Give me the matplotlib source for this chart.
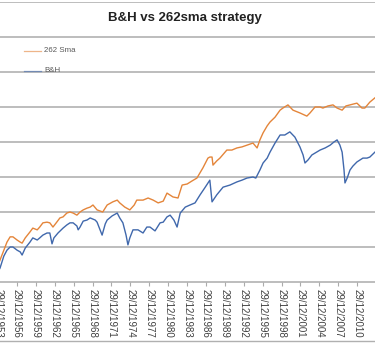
import matplotlib.pyplot as plt
from matplotlib.lines import Line2D

plt.rcParams['font.family'] = ['Liberation Sans', 'DejaVu Sans']

# B&H curve (decimal year, chart units - one unit per gridline)
bh_year = [1953.7, 1954.3, 1954.9, 1955.4, 1955.9, 1956.35, 1957.0, 1957.5, 1957.8, 1958.3,
           1959.05, 1959.5, 1960.2, 1960.6, 1961.1, 1961.75, 1962.2, 1962.55, 1962.85, 1963.5,
           1964.3, 1964.9, 1965.4, 1965.9, 1966.5, 1966.7, 1967.0, 1967.5, 1968.1, 1968.6,
           1969.4, 1969.7, 1970.5, 1971.0, 1971.3, 1972.1, 1972.9, 1973.3, 1973.8, 1974.3,
           1974.6, 1974.9, 1975.4, 1976.2, 1977.0, 1977.6, 1978.1, 1978.9, 1979.7, 1980.2,
           1980.8, 1981.3, 1981.9, 1982.4, 1982.9, 1983.7, 1984.45, 1985.25, 1986.05, 1986.8,
           1987.6, 1987.95, 1988.7, 1989.7, 1990.8, 1991.9, 1992.7, 1993.5, 1994.45, 1994.9,
           1995.55, 1996.05, 1996.7, 1997.15, 1997.95, 1998.75, 1999.5, 2000.3, 2001.1, 2001.9,
           2002.4, 2002.7, 2003.2, 2003.8, 2005.1, 2005.9, 2006.7, 2007.3, 2007.8, 2008.25,
           2008.6, 2008.9, 2009.05, 2009.4, 2009.85, 2010.3, 2010.95, 2011.9, 2012.55, 2013.0,
           2013.8]
bh_val = [0.20, 0.40, 0.74, 0.91, 1.00, 1.00, 0.91, 0.86, 0.77, 0.97,
          1.14, 1.26, 1.20, 1.26, 1.34, 1.40, 1.40, 1.09, 1.26, 1.40,
          1.54, 1.63, 1.69, 1.69, 1.60, 1.49, 1.57, 1.74, 1.77, 1.83,
          1.77, 1.71, 1.34, 1.66, 1.77, 1.89, 1.97, 1.83, 1.69, 1.34,
          1.06, 1.26, 1.49, 1.49, 1.40, 1.57, 1.57, 1.46, 1.69, 1.71,
          1.86, 1.91, 1.77, 1.57, 1.97, 2.14, 2.20, 2.26, 2.49, 2.69,
          2.91, 2.29, 2.49, 2.71, 2.77, 2.86, 2.91, 2.97, 3.00, 2.97,
          3.20, 3.40, 3.54, 3.71, 3.97, 4.20, 4.20, 4.29, 4.14, 3.86,
          3.63, 3.40, 3.49, 3.63, 3.77, 3.83, 3.91, 4.00, 4.06, 3.91,
          3.71, 3.20, 2.83, 2.97, 3.20, 3.31, 3.43, 3.54, 3.54, 3.57,
          3.71]

# 262 day SMA strategy curve
sma_year = [1953.7, 1954.3, 1954.8, 1955.4, 1955.9, 1956.35, 1957.0, 1957.5, 1957.8, 1958.3,
            1959.05, 1959.5, 1960.2, 1960.6, 1961.1, 1961.75, 1962.2, 1962.7, 1963.3, 1963.8,
            1964.3, 1964.9, 1965.4, 1965.9, 1966.5, 1967.0, 1967.5, 1968.1, 1968.6, 1969.05,
            1969.7, 1970.6, 1971.3, 1972.2, 1972.9, 1973.3, 1974.1, 1974.6, 1974.9, 1975.6,
            1976.0, 1977.0, 1977.8, 1978.6, 1979.4, 1980.2, 1980.8, 1981.75, 1982.55, 1983.2,
            1984.0, 1984.8, 1985.55, 1986.5, 1987.3, 1987.6, 1987.95, 1988.1, 1988.7, 1989.2,
            1990.3, 1991.1, 1991.9, 1992.7, 1993.5, 1994.45, 1995.1, 1995.55, 1996.05, 1996.7,
            1997.15, 1997.95, 1998.75, 1999.2, 2000.0, 2000.8, 2001.9, 2003.0, 2003.5, 2004.3,
            2005.1, 2005.55, 2006.35, 2007.15, 2007.8, 2008.6, 2009.2, 2009.85, 2010.5, 2010.95,
            2011.75, 2012.2, 2013.0, 2013.8]
sma_val = [0.35, 0.63, 0.86, 1.14, 1.29, 1.29, 1.20, 1.14, 1.11, 1.26,
           1.43, 1.54, 1.49, 1.57, 1.69, 1.71, 1.69, 1.57, 1.71, 1.83,
           1.86, 1.97, 2.00, 1.97, 1.91, 2.00, 2.06, 2.11, 2.14, 2.20,
           2.06, 2.00, 2.20, 2.29, 2.34, 2.26, 2.14, 2.09, 2.06, 2.20,
           2.34, 2.34, 2.40, 2.34, 2.26, 2.31, 2.54, 2.43, 2.40, 2.77,
           2.80, 2.89, 2.97, 3.26, 3.54, 3.57, 3.57, 3.34, 3.46, 3.54,
           3.77, 3.77, 3.83, 3.86, 3.91, 3.97, 3.83, 4.06, 4.26, 4.46,
           4.57, 4.71, 4.91, 4.97, 5.06, 4.91, 4.83, 4.74, 4.83, 5.00,
           5.00, 4.97, 5.03, 5.06, 4.97, 4.91, 5.03, 5.06, 5.09, 5.11,
           4.97, 4.97, 5.14, 5.26]

tick_years = list(range(1953, 2014, 3))
tick_labels = ['29/12/%d' % y for y in tick_years]

orange = '#E4853A'
blue = '#4068AC'
grid_col = '#ababab'

fig = plt.figure(figsize=(3.75, 3.48), dpi=100)
# plot area is wider than the picture (cropped screenshot)
ax = fig.add_axes([-0.1, 66 / 348, 1.2, 280 / 348])

ax.plot(sma_year, sma_val, color=orange, lw=1.0)
ax.plot(bh_year, bh_val, color=blue, lw=1.0)

ax.set_xlim(1948.34, 2019.77)
ax.set_ylim(0, 8)
ax.set_yticks(range(1, 9))
ax.yaxis.grid(True, color=grid_col, lw=1.1)
ax.set_axisbelow(True)
ax.tick_params(axis='y', left=False, labelleft=False)

ax.set_xticks([y + 0.99 for y in tick_years])
ax.set_xticklabels(tick_labels, rotation=-90, fontsize=7, color='#404040')
ax.tick_params(axis='x', length=3, color=grid_col, pad=2)

for s in ['top', 'left', 'right']:
    ax.spines[s].set_visible(False)
ax.spines['bottom'].set_color(grid_col)
ax.spines['bottom'].set_linewidth(1.1)

fig.text(0.493, 1 - 18 / 348, 'B&H vs 262sma strategy', ha='center', va='center',
         fontsize=9.5, fontweight='bold', color='#222222')

# legend, drawn by hand at its place in the top-left corner
for yy, col, lab in [(51, orange, '262 Sma'), (70.5, blue, 'B&H')]:
    fy = 1 - yy / 348
    fig.add_artist(Line2D([24 / 375, 41 / 375], [fy, fy], color=col, lw=0.9, alpha=0.6))
    fig.text(44 / 375, fy, lab, ha='left', va='center', fontsize=5.7, color='#595959')

# bottom edge of the chart area
fig.add_artist(Line2D([0, 1], [7 / 348, 7 / 348], color='#b0b0b0', lw=1.0))

fig.savefig('out.png', dpi=100)
